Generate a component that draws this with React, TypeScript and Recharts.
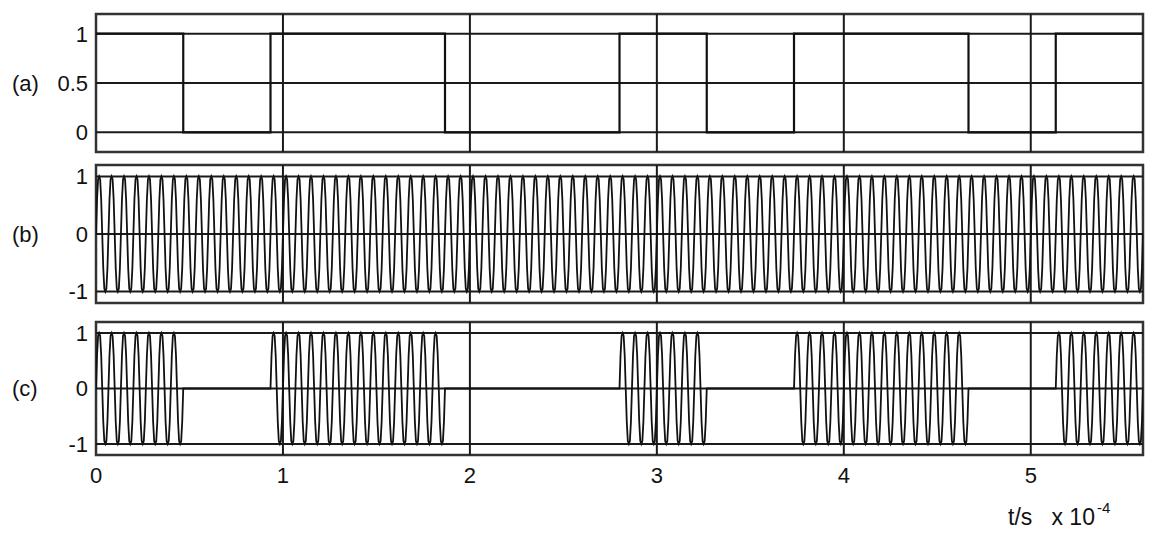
import {
  LineChart,
  Line,
  XAxis,
  YAxis,
  ReferenceLine,
  ReferenceArea,
} from "recharts";

// time axis in units of 1e-4 s
const BIT_PERIOD = 0.4667;
const bits = [1, 0, 1, 1, 0, 0, 1, 0, 1, 1, 0, 1];
const CYCLES_PER_BIT = 7;
// one carrier period
const carrierCycle = [0, 0.6, 0.95, 1, 0.95, 0.6, 0, -0.6, -0.95, -1, -0.95, -0.6];

const xTicks = [0, 1, 2, 3, 4, 5];
const gridX = [1, 2, 3, 4, 5];
const yTicksA = [0, 0.5, 1];
const yTicksBC = [-1, 0, 1];

const T_END = bits.length * BIT_PERIOD;

const bitData = [
  ...bits.map((b, i) => ({ t: i * BIT_PERIOD, v: b })),
  { t: T_END, v: bits[bits.length - 1] },
];

const waveData: { t: number; carrier: number; ask: number }[] = [];
bits.forEach((b, i) => {
  for (let c = 0; c < CYCLES_PER_BIT; c++) {
    carrierCycle.forEach((s, k) => {
      const t =
        ((i * CYCLES_PER_BIT + c + k / carrierCycle.length) * BIT_PERIOD) /
        CYCLES_PER_BIT;
      waveData.push({ t, carrier: s, ask: b * s });
    });
  }
});
waveData.push({ t: T_END, carrier: 0, ask: 0 });

const FONT = "'Liberation Sans', Arial, sans-serif";
const INK = "#111";
const tickStyle = { fontSize: 22, fill: INK, fontFamily: FONT };

function Frame({ yMin, yMax, yGrid }: { yMin: number; yMax: number; yGrid: number[] }) {
  return (
    <>
      {yGrid.map((y) => (
        <ReferenceLine key={"h" + y} y={y} stroke="#1a1a1a" strokeWidth={2} />
      ))}
      {gridX.map((x) => (
        <ReferenceLine key={"v" + x} x={x} stroke="#1a1a1a" strokeWidth={2} />
      ))}
      <ReferenceArea
        x1={0}
        x2={T_END}
        y1={yMin}
        y2={yMax}
        fill="none"
        fillOpacity={0}
        stroke="#333"
        strokeWidth={2.5}
        ifOverflow="visible"
      />
    </>
  );
}

function yAxisFor(domain: number[], ticks: number[], name: string) {
  return (
    <YAxis
      type="number"
      domain={domain}
      ticks={ticks}
      allowDataOverflow
      width={96}
      axisLine={false}
      tickLine={false}
      tickSize={0}
      tickMargin={8}
      tick={tickStyle}
      interval={0}
      label={{
        value: name,
        position: "insideLeft",
        offset: 12,
        style: { fontSize: 22, fill: INK, fontFamily: FONT },
      }}
    />
  );
}

export default function App() {
  return (
    <div
      style={{
        position: "absolute",
        left: 0,
        top: 0,
        width: 1152,
        height: 534,
        background: "#fff",
        fontFamily: FONT,
      }}
    >
      <div style={{ position: "absolute", left: 0, top: 0 }}>
        <LineChart
          width={1152}
          height={160}
          data={bitData}
          margin={{ top: 14, right: 9, bottom: 8, left: 0 }}
        >
          <XAxis type="number" dataKey="t" domain={[0, T_END]} hide allowDataOverflow />
          {yAxisFor([-0.2, 1.2], yTicksA, "(a)")}
          <Frame yMin={-0.2} yMax={1.2} yGrid={yTicksA} />
          <Line
            type="stepAfter"
            dataKey="v"
            stroke={INK}
            strokeWidth={2.2}
            dot={false}
            isAnimationActive={false}
          />
        </LineChart>
      </div>

      <div style={{ position: "absolute", left: 0, top: 160 }}>
        <LineChart
          width={1152}
          height={148}
          data={waveData}
          margin={{ top: 5, right: 9, bottom: 5, left: 0 }}
        >
          <XAxis type="number" dataKey="t" domain={[0, T_END]} hide allowDataOverflow />
          {yAxisFor([-1.2, 1.2], yTicksBC, "(b)")}
          <Frame yMin={-1.2} yMax={1.2} yGrid={yTicksBC} />
          <Line
            type="linear"
            dataKey="carrier"
            stroke={INK}
            strokeWidth={1.8}
            dot={false}
            isAnimationActive={false}
          />
        </LineChart>
      </div>

      <div style={{ position: "absolute", left: 0, top: 310 }}>
        <LineChart
          width={1152}
          height={185}
          data={waveData}
          margin={{ top: 12, right: 9, bottom: 0, left: 0 }}
        >
          <XAxis
            type="number"
            dataKey="t"
            domain={[0, T_END]}
            ticks={xTicks}
            interval={0}
            allowDataOverflow
            height={40}
            axisLine={false}
            tickLine={false}
            tickSize={0}
            tickMargin={12}
            tick={tickStyle}
          />
          {yAxisFor([-1.2, 1.2], yTicksBC, "(c)")}
          <Frame yMin={-1.2} yMax={1.2} yGrid={yTicksBC} />
          <Line
            type="linear"
            dataKey="ask"
            stroke={INK}
            strokeWidth={1.8}
            dot={false}
            isAnimationActive={false}
          />
        </LineChart>
      </div>

      <div
        style={{
          position: "absolute",
          left: 1008,
          top: 504,
          fontSize: 23,
          color: INK,
          whiteSpace: "nowrap",
        }}
      >
        t/s&nbsp;&nbsp;&nbsp;x 10
        <span style={{ fontSize: 15, position: "relative", top: -12, marginLeft: 2 }}>-4</span>
      </div>
    </div>
  );
}
